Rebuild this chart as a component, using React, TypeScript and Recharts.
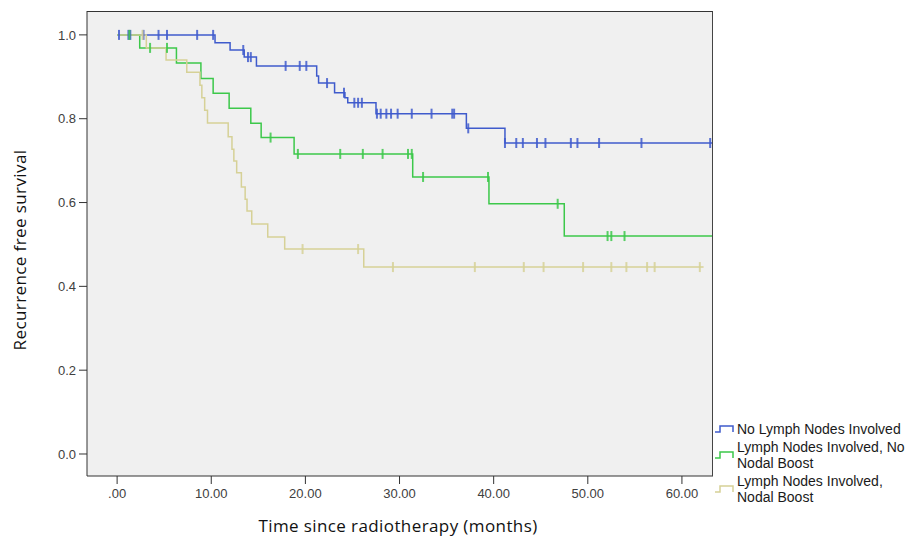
import {
  ComposedChart,
  Line,
  Scatter,
  XAxis,
  YAxis,
  CartesianGrid,
} from 'recharts';

// No Lymph Nodes Involved
const noNodesEventTimes = [10.4, 12.0, 13.5, 14.8, 21.2, 21.4, 23.1, 24.2, 24.5, 27.5, 37.1, 41.2];
const noNodesSurvival = [0.981, 0.964, 0.947, 0.926, 0.902, 0.885, 0.862, 0.850, 0.838, 0.812, 0.777, 0.742];
const noNodesCensored = [0.2, 1.2, 1.4, 2.8, 4.4, 5.3, 8.5, 10.2, 13.4, 13.9, 14.2, 17.9, 19.4, 20.1, 22.3, 24.1,
  25.2, 25.6, 26.0, 27.6, 28.0, 28.6, 29.1, 29.8, 31.3, 33.4, 35.6, 35.8, 37.3, 41.2, 42.4, 43.1, 44.6, 45.5,
  48.2, 48.9, 51.2, 55.7, 63.0];
const noNodesEnd = 63.3;

// Lymph Nodes Involved, No Nodal Boost
const noBoostEventTimes = [2.4, 6.3, 8.9, 10.2, 11.9, 14.2, 15.3, 18.8, 31.4, 39.5, 47.5];
const noBoostSurvival = [0.969, 0.933, 0.896, 0.861, 0.825, 0.789, 0.755, 0.716, 0.661, 0.597, 0.520];
const noBoostCensored = [1.3, 3.5, 5.3, 16.3, 19.2, 23.7, 26.1, 28.2, 30.9, 31.3, 32.5, 39.4, 46.8, 52.1, 52.5, 53.9];
const noBoostEnd = 63.3;

// Lymph Nodes Involved, Nodal Boost
const boostEventTimes = [3.1, 5.2, 7.4, 8.8, 9.0, 9.3, 9.6, 11.8, 12.2, 12.4, 12.7, 13.2, 13.6, 13.8, 14.3, 16.0, 17.8, 26.2];
const boostSurvival = [0.969, 0.940, 0.911, 0.880, 0.850, 0.820, 0.790, 0.757, 0.727, 0.699, 0.671, 0.637, 0.608, 0.580,
  0.549, 0.518, 0.489, 0.446];
const boostCensored = [2.7, 19.7, 25.6, 29.3, 38.0, 43.2, 45.3, 49.5, 52.5, 54.1, 56.3, 57.1, 61.9];
const boostEnd = 62.3;

const xTicks = [0, 10, 20, 30, 40, 50, 60];
const yTicks = [0, 0.2, 0.4, 0.6, 0.8, 1.0];

const BLUE = '#3f5bcc';
const GREEN = '#3cc84a';
const TAN = '#d6d197';

function buildCurve(times: number[], surv: number[], end: number) {
  const pts = [{ t: 0, s: 1 }];
  times.forEach((t, i) => pts.push({ t, s: surv[i] }));
  pts.push({ t: end, s: surv[surv.length - 1] });
  return pts;
}

function survivalAt(times: number[], surv: number[], t: number) {
  let s = 1;
  times.forEach((et, i) => {
    if (et <= t) s = surv[i];
  });
  return s;
}

function buildCensored(times: number[], surv: number[], cens: number[]) {
  return cens.map((t) => ({ t, s: survivalAt(times, surv, t) }));
}

const series = [
  {
    name: 'No Lymph Nodes Involved',
    color: BLUE,
    curve: buildCurve(noNodesEventTimes, noNodesSurvival, noNodesEnd),
    marks: buildCensored(noNodesEventTimes, noNodesSurvival, noNodesCensored),
  },
  {
    name: 'Lymph Nodes Involved, No Nodal Boost',
    color: GREEN,
    curve: buildCurve(noBoostEventTimes, noBoostSurvival, noBoostEnd),
    marks: buildCensored(noBoostEventTimes, noBoostSurvival, noBoostCensored),
  },
  {
    name: 'Lymph Nodes Involved, Nodal Boost',
    color: TAN,
    curve: buildCurve(boostEventTimes, boostSurvival, boostEnd),
    marks: buildCensored(boostEventTimes, boostSurvival, boostCensored),
  },
];

const tickStyle = { fontSize: 13, fill: '#404040', fontFamily: '"Liberation Sans", Arial, sans-serif' };

function censorShape(color: string) {
  return (props: any) => {
    const { cx, cy } = props;
    return (
      <line x1={cx} x2={cx} y1={cy - 5} y2={cy + 5} stroke={color} strokeWidth={2} strokeOpacity={0.85} />
    );
  };
}

function LegendIcon({ color, top }: { color: string; top: number }) {
  return (
    <svg style={{ position: 'absolute', left: 714, top }} width={22} height={10}>
      <path d="M1 8 H6 V2 H19 V8" fill="none" stroke={color} strokeWidth={1.5} />
    </svg>
  );
}

export default function App() {
  const legendText: React.CSSProperties = {
    position: 'absolute',
    left: 737,
    fontFamily: '"Liberation Sans", Arial, sans-serif',
    fontSize: 14,
    lineHeight: '16px',
    color: '#1a1a1a',
    whiteSpace: 'nowrap',
  };
  const titleFont: React.CSSProperties = {
    position: 'absolute',
    fontFamily: '"Open Sans", Lato, sans-serif',
    fontSize: 17,
    letterSpacing: 0.4,
    color: '#111',
    whiteSpace: 'nowrap',
  };
  return (
    <div style={{ position: 'absolute', left: 0, top: 0, width: 921, height: 541, background: '#fff' }}>
      <ComposedChart
        width={921}
        height={541}
        margin={{ top: 11, right: 208, left: 27, bottom: 0 }}
      >
        <CartesianGrid fill="#f0f0f0" horizontal={false} vertical={false} />
        <XAxis
          dataKey="t"
          type="number"
          domain={[-3.2, 63.3]}
          ticks={xTicks}
          allowDataOverflow
          tickFormatter={(v: number) => (v === 0 ? '.00' : v.toFixed(2))}
          tick={tickStyle}
          tickSize={8}
          tickMargin={5}
          stroke="#333"
          height={65}
        />
        <YAxis
          type="number"
          domain={[-0.0525, 1.057]}
          ticks={yTicks}
          allowDataOverflow
          tickFormatter={(v: number) => v.toFixed(1)}
          tick={tickStyle}
          tickSize={8}
          tickMargin={3}
          stroke="#333"
          width={60}
        />
        {series.map((s) => (
          <Line
            key={s.name}
            data={s.curve}
            dataKey="s"
            type="stepAfter"
            stroke={s.color}
            strokeWidth={1.5}
            dot={false}
            activeDot={false}
            isAnimationActive={false}
          />
        ))}
        {series.map((s) => (
          <Scatter
            key={s.name + '-c'}
            data={s.marks}
            dataKey="s"
            shape={censorShape(s.color)}
            isAnimationActive={false}
          />
        ))}
      </ComposedChart>

      {/* top and right frame of the plot box */}
      <div
        style={{
          position: 'absolute',
          left: 87,
          top: 11,
          width: 626,
          height: 465,
          borderTop: '1px solid #333',
          borderRight: '1.5px solid #444',
          boxSizing: 'border-box',
          pointerEvents: 'none',
        }}
      />

      <LegendIcon color={BLUE} top={424} />
      <div style={{ ...legendText, top: 421 }}>No Lymph Nodes Involved</div>
      <LegendIcon color={GREEN} top={450} />
      <div style={{ ...legendText, top: 439 }}>Lymph Nodes Involved, No<br />Nodal Boost</div>
      <LegendIcon color={TAN} top={484} />
      <div style={{ ...legendText, top: 473 }}>Lymph Nodes Involved,<br />Nodal Boost</div>

      <div style={{ ...titleFont, left: 19, top: 250, transform: 'translate(-50%, -50%) rotate(-90deg)' }}>
        Recurrence free survival
      </div>
      <div style={{ ...titleFont, left: 398, top: 525, transform: 'translate(-50%, -50%)' }}>
        Time since radiotherapy (months)
      </div>
    </div>
  );
}
